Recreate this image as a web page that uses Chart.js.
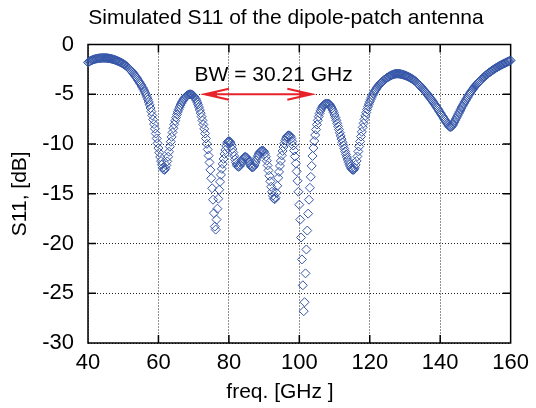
<!DOCTYPE html>
<html>
<head>
<meta charset="utf-8">
<script src="https://cdn.jsdelivr.net/npm/chart.js@4"></script>
<style>
  html, body { margin: 0; padding: 0; background: #fff; }
  #wrap { width: 536px; height: 408px; }
</style>
</head>
<body>
<div id="wrap"><canvas id="s11Chart" width="536" height="408"></canvas></div>
<script>
// Frequency sweep: 40..160 GHz in 0.25 GHz steps
const FREQ_START = 40;
const FREQ_STEP = 0.25;

// Simulated |S11| in dB, one value per sweep point
const s11 = [
  -1.80, -1.74, -1.68, -1.63, -1.59, -1.55, -1.52, -1.49, -1.46, -1.44, -1.42, -1.40, -1.39, -1.38, -1.37, -1.36, -1.36, -1.35, -1.35, -1.35,
  -1.36, -1.36, -1.37, -1.38, -1.40, -1.41, -1.43, -1.45, -1.48, -1.50, -1.53, -1.56, -1.60, -1.63, -1.67, -1.71, -1.75, -1.79, -1.84, -1.89,
  -1.94, -2.00, -2.06, -2.13, -2.20, -2.28, -2.36, -2.45, -2.54, -2.64, -2.74, -2.85, -2.96, -3.08, -3.20, -3.33, -3.46, -3.60, -3.74, -3.88,
  -4.02, -4.17, -4.33, -4.50, -4.68, -4.87, -5.07, -5.29, -5.52, -5.78, -6.06, -6.38, -6.74, -7.13, -7.55, -8.00, -8.47, -8.95, -9.44, -9.93,
  -10.41, -10.87, -11.31, -11.72, -12.08, -12.38, -12.57, -12.60, -12.45, -12.15, -11.75, -11.28, -10.78, -10.27, -9.77, -9.29, -8.84, -8.42, -8.03, -7.67,
  -7.34, -7.04, -6.77, -6.52, -6.30, -6.09, -5.91, -5.74, -5.59, -5.46, -5.34, -5.24, -5.16, -5.09, -5.04, -5.01, -5.00, -5.01, -5.04, -5.10,
  -5.18, -5.29, -5.43, -5.60, -5.80, -6.03, -6.29, -6.58, -6.90, -7.25, -7.63, -8.04, -8.48, -8.95, -9.45, -9.98, -10.55, -11.17, -11.85, -12.60,
  -13.45, -14.45, -15.60, -16.95, -18.30, -18.60, -17.60, -16.50, -15.50, -14.60, -13.80, -13.10, -12.50, -12.00, -11.50, -11.00, -10.60, -10.20, -9.90, -9.75,
  -9.70, -9.75, -9.90, -10.15, -10.50, -10.85, -11.20, -11.55, -11.85, -12.10, -12.25, -12.30, -12.25, -12.10, -11.90, -11.70, -11.50, -11.38, -11.30, -11.30,
  -11.35, -11.48, -11.65, -11.85, -12.05, -12.22, -12.33, -12.35, -12.28, -12.12, -11.90, -11.65, -11.40, -11.18, -11.00, -10.85, -10.75, -10.68, -10.65, -10.68,
  -10.78, -10.98, -11.28, -11.68, -12.15, -12.65, -13.20, -13.75, -14.30, -14.80, -15.20, -15.48, -15.55, -15.40, -14.90, -14.20, -13.40, -12.80, -12.20, -11.70,
  -11.15, -10.70, -10.30, -9.95, -9.65, -9.42, -9.25, -9.15, -9.12, -9.15, -9.25, -9.45, -9.75, -10.15, -10.65, -11.25, -11.95, -12.75, -13.70, -14.80,
  -16.10, -17.60, -19.40, -21.60, -24.20, -26.80, -25.90, -23.00, -20.60, -18.70, -17.00, -15.60, -14.40, -13.30, -12.20, -11.20, -10.40, -9.70, -9.10, -8.55,
  -8.05, -7.62, -7.25, -6.93, -6.67, -6.46, -6.29, -6.16, -6.06, -5.99, -5.95, -5.93, -5.93, -5.95, -5.99, -6.10, -6.25, -6.42, -6.62, -6.84,
  -7.08, -7.34, -7.62, -7.92, -8.23, -8.55, -8.87, -9.19, -9.51, -9.83, -10.14, -10.45, -10.75, -11.04, -11.32, -11.59, -11.84, -12.07, -12.27, -12.44,
  -12.56, -12.62, -12.58, -12.40, -12.10, -11.70, -11.25, -10.75, -10.25, -9.75, -9.25, -8.78, -8.33, -7.92, -7.53, -7.17, -6.84, -6.53, -6.25, -5.99,
  -5.75, -5.53, -5.32, -5.13, -4.95, -4.79, -4.64, -4.50, -4.37, -4.25, -4.14, -4.03, -3.93, -3.84, -3.75, -3.67, -3.59, -3.52, -3.45, -3.38,
  -3.32, -3.26, -3.21, -3.16, -3.11, -3.07, -3.03, -3.00, -2.97, -2.95, -2.94, -2.93, -2.93, -2.94, -2.95, -2.97, -2.99, -3.01, -3.04, -3.07,
  -3.10, -3.13, -3.17, -3.21, -3.25, -3.30, -3.35, -3.40, -3.45, -3.51, -3.57, -3.63, -3.70, -3.78, -3.86, -3.95, -4.05, -4.15, -4.25, -4.35,
  -4.45, -4.55, -4.65, -4.75, -4.85, -4.96, -5.07, -5.18, -5.30, -5.42, -5.54, -5.66, -5.78, -5.91, -6.04, -6.17, -6.30, -6.44, -6.57, -6.71,
  -6.85, -6.99, -7.13, -7.26, -7.40, -7.54, -7.68, -7.82, -7.95, -8.08, -8.20, -8.28, -8.30, -8.25, -8.12, -7.97, -7.80, -7.63, -7.45, -7.28,
  -7.10, -6.92, -6.75, -6.57, -6.40, -6.23, -6.07, -5.91, -5.75, -5.60, -5.45, -5.30, -5.15, -5.01, -4.88, -4.75, -4.62, -4.50, -4.38, -4.26,
  -4.15, -4.05, -3.95, -3.85, -3.75, -3.66, -3.57, -3.48, -3.40, -3.32, -3.24, -3.16, -3.08, -3.01, -2.94, -2.87, -2.80, -2.74, -2.67, -2.61,
  -2.55, -2.49, -2.43, -2.38, -2.32, -2.27, -2.22, -2.17, -2.12, -2.07, -2.02, -1.98, -1.93, -1.89, -1.85, -1.80, -1.76, -1.72, -1.68, -1.64,
  -1.60
];

const xTicks = [40, 60, 80, 100, 120, 140, 160];
const yTicks = [-30, -25, -20, -15, -10, -5, 0];

// Marked bandwidth: start frequency and width in GHz, drawn at the -5 dB line
const bwStart = 73.2;
const bwWidth = 30.21;
const bwLevel = -5;
const bwLabel = 'BW = ' + bwWidth.toFixed(2) + ' GHz';

const chartTitle = 'Simulated S11 of the dipole-patch antenna';
const xTitle = 'freq. [GHz ]';
const yTitle = 'S11, [dB]';

const FONT = "'Liberation Sans', Arial, Helvetica, sans-serif";
const TICK_LEN = 8;

const points = s11.map(function(v, i) {
  return { x: FREQ_START + i * FREQ_STEP, y: v };
});

// Solid frame with inward tick marks on all four sides
const framePlugin = {
  id: 'frame',
  beforeDatasetsDraw(chart) {
    const ctx = chart.ctx;
    const a = chart.chartArea;
    const xs = chart.scales.x, ys = chart.scales.y;
    ctx.save();
    ctx.strokeStyle = '#000';
    ctx.lineWidth = 1.5;
    ctx.beginPath();
    xTicks.slice(1, -1).forEach(function(v) {
      const px = xs.getPixelForValue(v);
      ctx.moveTo(px, a.bottom); ctx.lineTo(px, a.bottom - TICK_LEN);
      ctx.moveTo(px, a.top); ctx.lineTo(px, a.top + TICK_LEN);
    });
    yTicks.slice(1, -1).forEach(function(v) {
      const py = ys.getPixelForValue(v);
      ctx.moveTo(a.left, py); ctx.lineTo(a.left + TICK_LEN, py);
      ctx.moveTo(a.right, py); ctx.lineTo(a.right - TICK_LEN, py);
    });
    ctx.stroke();
    ctx.strokeRect(a.left, a.top, a.right - a.left, a.bottom - a.top);
    ctx.restore();
  }
};

// Plot title and x axis label, set a little left of the plot centre
const textPlugin = {
  id: 'titles',
  afterDraw(chart) {
    const ctx = chart.ctx;
    ctx.save();
    ctx.fillStyle = '#000';
    ctx.textAlign = 'center';
    ctx.textBaseline = 'middle';
    ctx.font = '21px ' + FONT;
    ctx.fillText(chartTitle, 286, 18);
    ctx.fillText(xTitle, 280, 392);
    ctx.restore();
  }
};

function arrowHead(ctx, tipX, y, dir) {
  ctx.beginPath();
  ctx.moveTo(tipX + dir * 24, y - 5.5);
  ctx.lineTo(tipX, y);
  ctx.lineTo(tipX + dir * 24, y + 5.5);
  ctx.stroke();
  ctx.beginPath();
  ctx.moveTo(tipX, y);
  ctx.lineTo(tipX + dir * 12, y - 2.8);
  ctx.lineTo(tipX + dir * 12, y + 2.8);
  ctx.closePath();
  ctx.fill();
}

// Double arrow across the band plus its label
const bwPlugin = {
  id: 'bwArrow',
  afterDatasetsDraw(chart) {
    const ctx = chart.ctx;
    const xs = chart.scales.x, ys = chart.scales.y;
    const x0 = xs.getPixelForValue(bwStart);
    const x1 = xs.getPixelForValue(bwStart + bwWidth);
    const py = ys.getPixelForValue(bwLevel);
    ctx.save();
    ctx.strokeStyle = '#e8222a';
    ctx.fillStyle = '#e8222a';
    ctx.lineWidth = 2.2;
    ctx.beginPath();
    ctx.moveTo(x0 + 2, py);
    ctx.lineTo(x1 - 2, py);
    ctx.stroke();
    arrowHead(ctx, x0, py, 1);
    arrowHead(ctx, x1, py, -1);

    ctx.fillStyle = '#000';
    ctx.font = '21px ' + FONT;
    ctx.textAlign = 'center';
    ctx.textBaseline = 'middle';
    ctx.fillText(bwLabel, xs.getPixelForValue(92.7), ys.getPixelForValue(-3.1));
    ctx.restore();
  }
};

new Chart(document.getElementById('s11Chart'), {
  type: 'scatter',
  data: {
    datasets: [{
      label: 'S11',
      data: points,
      showLine: false,
      pointStyle: 'rectRot',
      pointRadius: 4.5,
      pointBorderWidth: 1,
      pointBorderColor: '#3656a8',
      pointBackgroundColor: 'rgba(255,255,255,0)',
      clip: false
    }]
  },
  options: {
    responsive: false,
    animation: false,
    events: [],
    layout: { padding: { left: 0, right: 25, top: 44.5, bottom: 0 } },
    plugins: {
      legend: { display: false },
      tooltip: { enabled: false },
      title: { display: false }
    },
    scales: {
      x: {
        type: 'linear',
        min: 40,
        max: 160,
        afterBuildTicks: function(s) { s.ticks = xTicks.map(function(v) { return { value: v }; }); },
        afterFit: function(s) { s.height = 65; },
        grid: { color: '#222', lineWidth: 1, drawTicks: false },
        border: { display: false, dash: [1, 2] },
        ticks: { color: '#000', padding: 7, font: { family: FONT, size: 22 }, maxRotation: 0 }
      },
      y: {
        type: 'linear',
        min: -30,
        max: 0,
        afterBuildTicks: function(s) { s.ticks = yTicks.map(function(v) { return { value: v }; }); },
        afterFit: function(s) { s.width = 88; },
        grid: { color: '#222', lineWidth: 1, drawTicks: false },
        border: { display: false, dash: [1, 2] },
        ticks: { color: '#000', padding: 14, font: { family: FONT, size: 22 } },
        title: {
          display: true,
          text: yTitle,
          color: '#000',
          font: { family: FONT, size: 21 },
          padding: { top: 8, bottom: 0 }
        }
      }
    }
  },
  plugins: [framePlugin, bwPlugin, textPlugin]
});
</script>
</body>
</html>
